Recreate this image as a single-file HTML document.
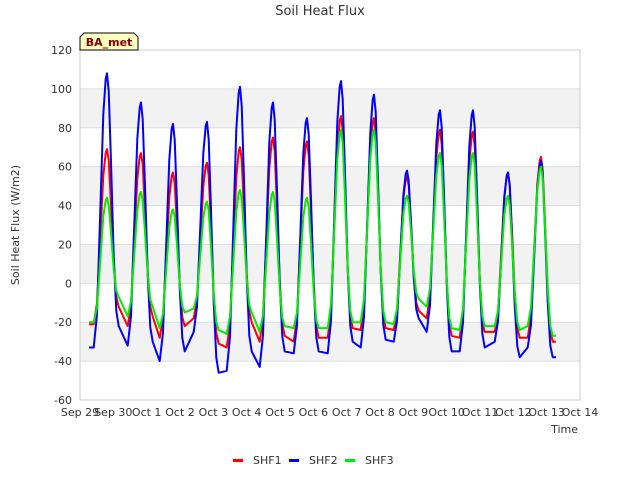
<!DOCTYPE html>
<html><head><meta charset="utf-8"><style>
body{margin:0;background:#fff;font-family:"Liberation Sans","DejaVu Sans",sans-serif}
</style></head><body>
<svg id="chart" width="640" height="480" xmlns="http://www.w3.org/2000/svg" style="font-family:'DejaVu Sans','Liberation Sans',sans-serif">
<text x="320" y="15" text-anchor="middle" font-size="13" fill="#333">Soil Heat Flux</text>
<g id="bands"></g>
<g id="series"></g>
<rect x="80" y="50" width="500" height="350" fill="none" stroke="#ccc"/>
<g id="yticks" font-size="11" fill="#333"></g>
<g id="xticks" font-size="11" fill="#333"></g>
<text transform="translate(19,225) rotate(-90)" text-anchor="middle" font-size="11" fill="#333">Soil Heat Flux (W/m2)</text>
<text x="578" y="433" text-anchor="end" font-size="11" fill="#333">Time</text>
<g>
<path d="M80,50 L80,37 L84,33 L134,33 L138,37 L138,50 Z" fill="#ffffc0" stroke="#000" stroke-width="1"/>
<text x="109" y="46" text-anchor="middle" font-size="11" font-weight="bold" fill="#8b0000">BA_met</text>
</g>
<g id="legend" font-size="11" fill="#333"></g>
</svg>
<script>
const dayLabels=["Sep 29","Sep 30","Oct 1","Oct 2","Oct 3","Oct 4","Oct 5","Oct 6","Oct 7","Oct 8","Oct 9","Oct 10","Oct 11","Oct 12","Oct 13","Oct 14"];
const yTicks=[-60,-40,-20,0,20,40,60,80,100,120];
const peakDay=[0.81,1.83,2.79,3.81,4.8,5.79,6.81,7.83,8.82,9.81,10.8,11.79,12.84,13.83];
const peaks1=[69,67,57,62,70,75,73,86,85,55,79,78,57,65];
const peaks2=[108,93,82,83,101,93,85,104,97,58,89,89,57,63];
const peaks3=[44,47,38,42,48,47,44,79,79,45,67,67,45,60];
const pre1=[-21,-22,-28,-18,-33,-30,-30,-28,-24,-24,-18,-28,-25,-28];
const post1=[-12,-17,-22,-31,-20,-27,-28,-23,-23,-14,-27,-25,-28,-30];
const pre2=[-33,-32,-40,-25,-45,-43,-36,-36,-33,-30,-25,-35,-30,-33];
const post2=[-22,-30,-35,-46,-35,-35,-35,-30,-29,-18,-35,-33,-38,-38];
const pre3=[-20,-17,-23,-13,-26,-25,-23,-23,-20,-21,-12,-24,-22,-22];
const post3=[-7,-12,-15,-24,-15,-22,-23,-20,-20,-8,-23,-22,-24,-27];
const NS="http://www.w3.org/2000/svg";
const X=d=>80+d*500/15, Y=v=>50+(120-v)*350/180;
function mk(t,a,p){const e=document.createElementNS(NS,t);for(const k in a)e.setAttribute(k,a[k]);p.appendChild(e);return e;}
const bands=document.getElementById('bands');
[[80,100],[40,60],[0,20],[-40,-20]].forEach(b=>{const r=mk('rect',{x:80,y:Y(b[1]),width:500,height:Y(b[0])-Y(b[1]),fill:'#f2f2f2'},bands);

});
const yt=document.getElementById('yticks');
yTicks.forEach(v=>{const l=mk('line',{x1:80,x2:580,y1:Y(v),y2:Y(v),stroke:'#ddd'},bands);


const t=mk('text',{x:72,y:Y(v)+4,'text-anchor':'end'},yt);t.textContent=v;

});
const xt=document.getElementById('xticks');
dayLabels.forEach((s,i)=>{const t=mk('text',{x:X(i),y:416,'text-anchor':'middle'},xt);t.textContent=s;

});
function build(pk,pre,post){const pts=[[0.27,pre[0]],[0.41,pre[0]]];
for(let i=0;i<pk.length;i++){const t=peakDay[i],p=pk[i],tr=pre[i],po=post[i];
if(i>0)pts.push([t-0.4,tr]);
pts.push([t-0.3,tr+0.12*(p-tr)],[t-0.2,tr+0.5*(p-tr)],[t-0.11,tr+0.85*(p-tr)],[t-0.04,tr+0.98*(p-tr)],[t,p],[t+0.05,po+0.93*(p-po)],[t+0.12,po+0.65*(p-po)],[t+0.2,po+0.28*(p-po)],[t+0.28,po+0.06*(p-po)],[t+0.35,po]);
if(i==pk.length-1)pts.push([t+0.45,po]);}
return pts.map((q,j)=>(j?'L':'M')+X(q[0]).toFixed(1)+','+Y(q[1]).toFixed(1)).join('');}
const sg=document.getElementById('series');
[[peaks1,pre1,post1,'#ff0000','shf1-line'],[peaks2,pre2,post2,'#0000ff','shf2-line'],[peaks3,pre3,post3,'#00ee00','shf3-line']].forEach(s=>{
const p=mk('path',{d:build(s[0],s[1],s[2]),fill:'none',stroke:s[3],'stroke-width':2,'stroke-linejoin':'round'},sg);

});
const lg=document.getElementById('legend');
[['SHF1','#ff0000',233],['SHF2','#0000ff',289],['SHF3','#00ee00',345]].forEach(e=>{
const g=mk('g',{},lg);


mk('rect',{x:e[2],y:459,width:10,height:3,fill:e[1]},g);
const t=mk('text',{x:e[2]+20,y:464},g);t.textContent=e[0];});
</script>
</body></html>
